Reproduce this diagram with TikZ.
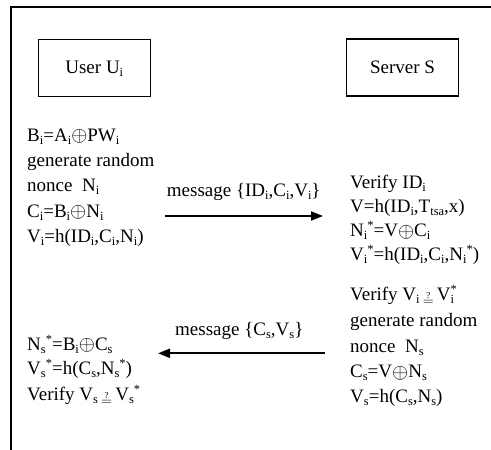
\documentclass[tikz,border=0pt]{standalone}
\usepackage{fontspec}
\setmainfont{Liberation Serif}
\usetikzlibrary{arrows.meta}
\newcommand\lo[1]{\raisebox{-3pt}{\fontsize{12.5}{12.5}\selectfont #1}}
\newcommand\hi[1]{\raisebox{7pt}{\fontsize{12.5}{12.5}\selectfont #1}}
\newcommand\xo{\raisebox{-0.5pt}{\scalebox{1.2}{$\oplus$}}}
\newcommand\qeq{\,\raisebox{-4.5pt}{$\mathrel{\stackrel{\mbox{\fontsize{9}{9}\selectfont ?}}{\scriptstyle =}}$}\,}
\begin{document}
\begin{tikzpicture}[x=1pt,y=-1pt,
  txt/.style={anchor=base west, inner sep=0pt, font=\fontsize{19}{23}\selectfont},
  box/.style={draw, line width=1.3pt, minimum width=112pt, minimum height=57pt, inner sep=0pt, font=\fontsize{19}{23}\selectfont},
  msg/.style={line width=2pt, -{Triangle[length=12pt,width=9pt]}}]
\useasboundingbox (0,0) rectangle (491,450);
\fill[white] (0,0) rectangle (491,450);
\draw[line width=2pt] (11,450) -- (11,7.3) -- (491,7.3);
% parties
\node[box] (user) at (94.3,68.3) {User U\lo{i}};
\node[box] (server) at (402.5,67.5) {Server S};
% user side, first step
\node[txt] (u1) at (27,141) {B\lo{i}=A\lo{i}\xo PW\lo{i}};
\node[txt] (u2) at (27,166) {generate random};
\node[txt] (u3) at (27,191.7) {nonce\ \ N\lo{i}};
\node[txt] (u4) at (27,217) {C\lo{i}=B\lo{i}\xo N\lo{i}};
\node[txt] (u5) at (27,242.7) {V\lo{i}=h(ID\lo{i},C\lo{i},N\lo{i})};
% server side
\node[txt] (s1) at (350,188) {Verify ID\lo{i}};
\node[txt] (s2) at (350,212.7) {V=h(ID\lo{i},T\lo{tsa},x)};
\node[txt] (s3) at (350,236.7) {N\lo{i}\hi{*}=V\xo C\lo{i}};
\node[txt] (s4) at (350,260.7) {V\lo{i}\hi{*}=h(ID\lo{i},C\lo{i},N\lo{i}\hi{*})};
\node[txt] (s5) at (350,300.7) {Verify V\lo{i}\qeq V\rlap{\hi{*}}\lo{i}};
\node[txt] (s6) at (350,326.7) {generate random};
\node[txt] (s7) at (350,352.7) {nonce\ \ N\lo{s}};
\node[txt] (s8) at (350,377.5) {C\lo{s}=V\xo N\lo{s}};
\node[txt] (s9) at (350,402.7) {V\lo{s}=h(C\lo{s},N\lo{s})};
% user side, second step
\node[txt] (v1) at (27,350) {N\lo{s}\hi{*}=B\lo{i}\xo C\lo{s}};
\node[txt] (v2) at (27,374) {V\lo{s}\hi{*}=h(C\lo{s},N\lo{s}\hi{*})};
\node[txt] (v3) at (27,400.7) {Verify V\lo{s}\qeq V\lo{s}\hi{*}};
% messages
\coordinate (m1a) at (165,216);
\coordinate (m1b) at (323,216);
\draw[msg] (m1a) -- (m1b);
\node[txt] (m1l) at (166.7,196.7) {message \{ID\lo{i},C\lo{i},V\lo{i}\}};
\coordinate (m2a) at (325,353.3);
\coordinate (m2b) at (158,353.3);
\draw[msg] (m2a) -- (m2b);
\node[txt] (m2l) at (175,335) {message \{C\lo{s},V\lo{s}\}};
\end{tikzpicture}
\end{document}
